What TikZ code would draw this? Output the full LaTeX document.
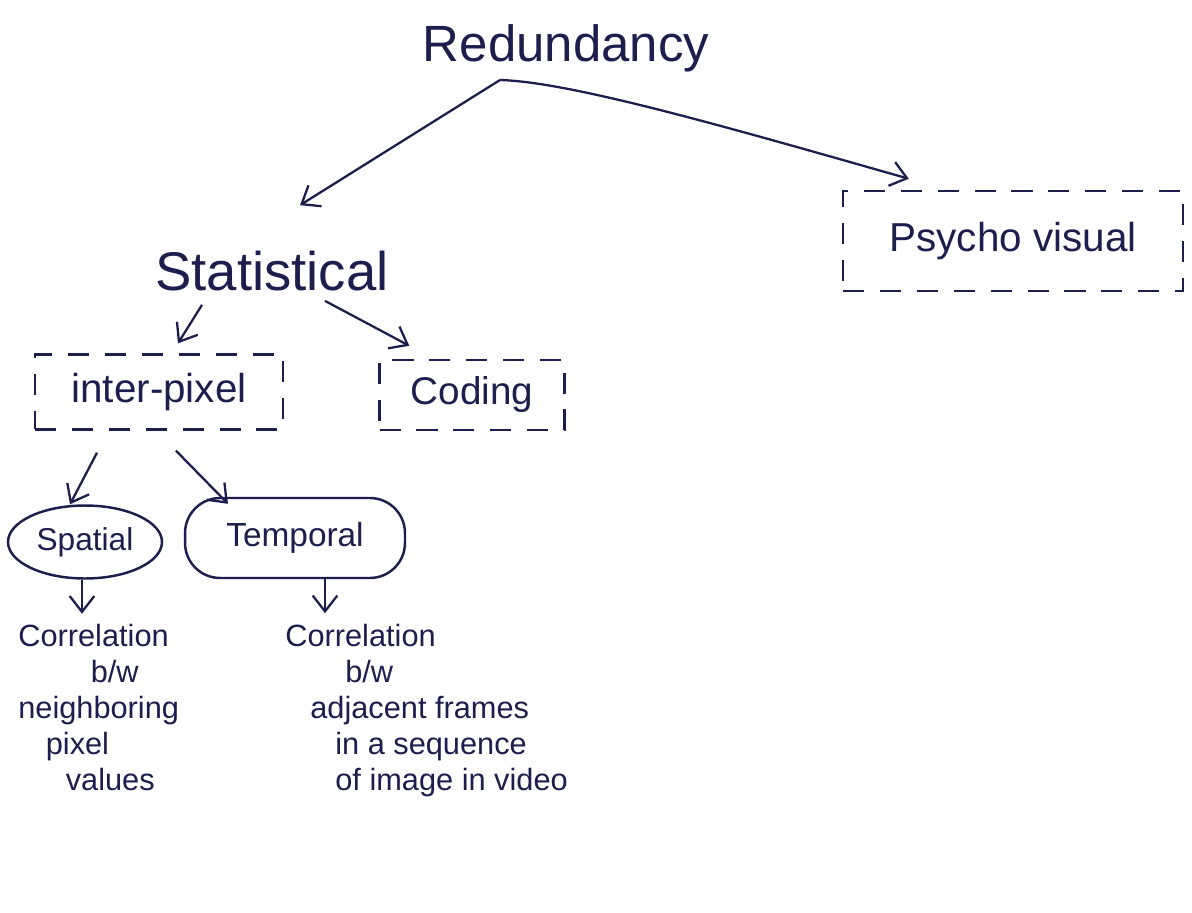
\documentclass[tikz,border=0pt]{standalone}
\usepackage{fontspec}
\setmainfont{Liberation Sans}
\usetikzlibrary{arrows.meta,shapes.geometric,calc}
\definecolor{ink}{HTML}{1E1E4E}
\tikzset{
  every node/.style={text=ink},
  lbl/.style={inner sep=0pt},
  dbox/.style={draw=ink, line width=1.4pt, dash pattern=on 12pt off 9pt, inner sep=0pt},
  oval/.style={draw=ink, line width=1.4pt, ellipse, inner sep=0pt},
  pill/.style={draw=ink, line width=1.4pt, rounded corners=20pt, inner sep=0pt},
  arr/.style={draw=ink, line width=1.3pt, -{Straight Barb[length=9pt,width=14pt,line width=1.3pt]}},
  note/.style={inner sep=0pt, align=left, font=\fontsize{17.5}{20.5}\selectfont}
}
\begin{document}
\begin{tikzpicture}[x=0.02cm,y=-0.02cm]
\useasboundingbox[fill=white] (0,0) rectangle (1192,912);
% top node
\node[lbl, font=\fontsize{29}{34}\selectfont, anchor=base] (red) at (566,62) {Redundancy};
\coordinate (apex) at (500,80);
% second level
\node[lbl, font=\fontsize{31}{36}\selectfont, anchor=base] (stat) at (272,290) {Statistical};
\node[dbox, minimum width=6.8cm, minimum height=2cm] (psy) at (1013,241) {};
\node[lbl, font=\fontsize{23}{28}\selectfont] at (psy.center) {Psycho visual};
% third level
\node[dbox, minimum width=4.96cm, minimum height=1.5cm] (inter) at (159,392) {};
\node[lbl, font=\fontsize{23}{28}\selectfont] at (inter.center) {inter-pixel};
\node[dbox, minimum width=3.7cm, minimum height=1.4cm] (cod) at (472,395) {};
\node[lbl, font=\fontsize{22}{27}\selectfont] at (cod.center) {Coding};
% fourth level
\node[oval, minimum width=3.08cm, minimum height=1.46cm, font=\fontsize{18}{22}\selectfont] (spa) at (85,542) {Spatial};
\node[pill, minimum width=4.4cm, minimum height=1.6cm, font=\fontsize{19}{23}\selectfont] (tem) at (295,538) {Temporal};
% notes
\node[note, anchor=north west] (n1) at (18,624) {Correlation\\
\hspace*{1.45cm}b/w\\
neighboring\\
\hspace*{0.55cm}pixel\\
\hspace*{0.95cm}values};
\node[note, anchor=north west] (n2) at (285,624) {Correlation\\
\hspace*{1.2cm}b/w\\
\hspace*{0.5cm}adjacent frames\\
\hspace*{1.0cm}in a sequence\\
\hspace*{1.0cm}of image in video};
% connectors
\draw[arr] (apex) -- ($(stat.north)+(28,-45)$);
\draw[arr] (apex) .. controls (570,82) and (720,125) .. ($(psy.north west)+(67,-11)$);
\draw[arr] ($(stat.south)+(-70,14)$) -- ($(inter.north)+(19,-10)$);
\draw[arr] ($(stat.south)+(53,10)$) -- ($(cod.north west)+(31,-13)$);
\draw[arr] ($(inter.south)+(-62,22)$) -- ($(spa.north)+(-15,0)$);
\draw[arr] ($(inter.south)+(17,20)$) -- ($(tem.north)+(-67,7)$);
\draw[arr] ($(spa.south)+(-3,0)$) -- ($(spa.south)+(-3,34)$);
\draw[arr] ($(tem.south)+(30,0)$) -- ($(tem.south)+(30,34)$);
\end{tikzpicture}
\end{document}
